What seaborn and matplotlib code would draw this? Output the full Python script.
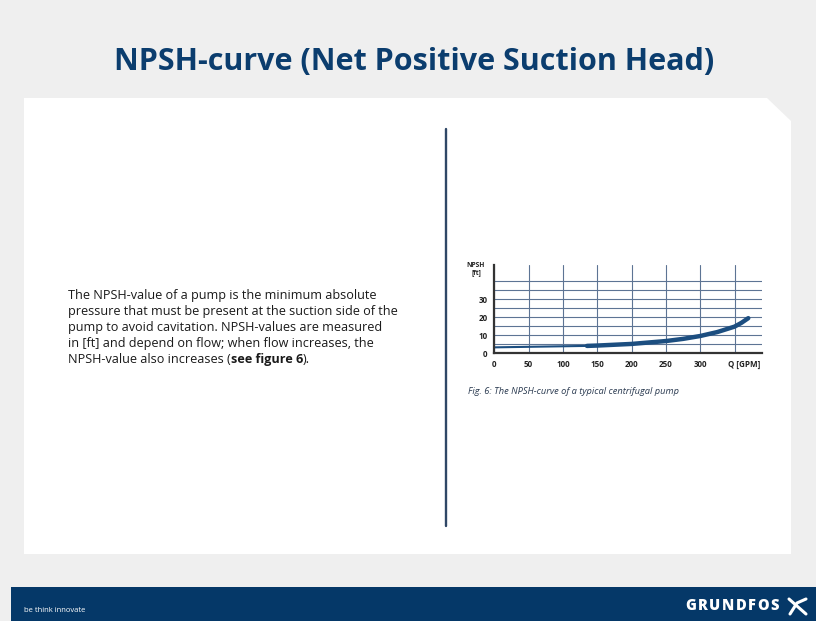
import matplotlib
matplotlib.use("Agg")
import matplotlib.pyplot as plt
import seaborn as sns
import pandas as pd
from matplotlib.patches import Polygon, Rectangle

# NPSH curve
flow_gpm = [0, 50, 100, 135, 150, 200, 250, 275, 300, 325, 350, 360, 370]
npsh_ft = [3.3, 3.6, 3.9, 4.1, 4.3, 5.2, 6.8, 8.0, 9.6, 11.8, 14.8, 16.9, 19.5]
thick_from = 135

x_ticks = [0, 50, 100, 150, 200, 250, 300, 350]
x_labels = ["0", "50", "100", "150", "200", "250", "300", ""]
y_ticks = [0, 5, 10, 15, 20, 25, 30, 35, 40]
y_labels = ["0", "", "10", "", "20", "", "30", "", ""]

title = "NPSH-curve (Net Positive Suction Head)"
body_lines = [
    "The NPSH-value of a pump is the minimum absolute",
    "pressure that must be present at the suction side of the",
    "pump to avoid cavitation. NPSH-values are measured",
    "in [ft] and depend on flow; when flow increases, the",
]
last_line = ["NPSH-value also increases (", "see figure 6", ")."]
caption = "Fig. 6: The NPSH-curve of a typical centrifugal pump"

df = pd.DataFrame({"Q": flow_gpm, "NPSH": npsh_ft})

sns.set_style("white")
plt.rcParams["font.family"] = ["Open Sans", "DejaVu Sans"]

navy = "#0b3d6e"
curve_col = "#1c4e80"
W, H = 816, 639
fig = plt.figure(figsize=(W / 100, H / 100), dpi=100)
fig.patch.set_facecolor("#efefef")

# background layer in pixel coordinates
bg = fig.add_axes([0, 0, 1, 1])
bg.set_xlim(0, W)
bg.set_ylim(H, 0)
bg.axis("off")
bg.add_patch(Polygon([(24, 98), (767, 98), (791, 121), (791, 554), (24, 554)],
                     closed=True, facecolor="white", edgecolor="none"))
bg.plot([445.5, 445.5], [129, 526], color="#2f4766", lw=1.7)
bg.add_patch(Rectangle((11, 587), W - 11, 34, facecolor="#053868", edgecolor="none"))
bg.add_patch(Rectangle((0, 621), W, H - 621, facecolor="white", edgecolor="none"))

bg.text(414, 62, title, ha="center", va="center", fontsize=22, fontweight="bold",
        color=navy)

fs = 9.05
y0 = 295
for i, line in enumerate(body_lines):
    bg.text(68, y0 + i * 16.2, line, ha="left", va="center", fontsize=fs, color="#1a1a1a")
fig.canvas.draw()
rend = fig.canvas.get_renderer()
xpos = 68
ylast = y0 + 4 * 16.2
for part, wt in zip(last_line, ["normal", "bold", "normal"]):
    t = bg.text(xpos, ylast, part, ha="left", va="center", fontsize=fs,
                fontweight=wt, color="#1a1a1a")
    xpos += t.get_window_extent(renderer=rend).width

bg.text(468, 391, caption, ha="left", va="center", fontsize=6.65, style="italic",
        color="#2a3a50")

bg.text(24, 610, "be think innovate", ha="left", va="center", fontsize=5.5, color="white")
# brand name, letter by letter with some tracking
xpos = 685
for ch in "GRUNDFOS":
    t = bg.text(xpos, 606, ch, ha="left", va="center", fontsize=10.5,
                fontweight="heavy", color="white")
    xpos += t.get_window_extent(renderer=rend).width + 1.6
bg.plot([789, 806], [599, 614], color="white", lw=2.2, solid_capstyle="round")
bg.plot([790, 797, 806], [614, 603, 599], color="white", lw=2.2, solid_capstyle="round")

# the chart
ax = fig.add_axes([494.3 / W, 1 - 353.3 / H, (762 - 494.3) / W, (353.3 - 265) / H])
ax.set_facecolor("white")
sns.lineplot(data=df[df["Q"] <= thick_from], x="Q", y="NPSH", ax=ax, color=curve_col,
             lw=1.5, solid_capstyle="round")
sns.lineplot(data=df[df["Q"] >= thick_from], x="Q", y="NPSH", ax=ax, color=curve_col,
             lw=3.2, solid_capstyle="round")
ax.set_xlim(0, 390)
ax.set_ylim(0, 49)
ax.set_xticks(x_ticks)
ax.set_xticklabels(x_labels)
ax.set_yticks(y_ticks)
ax.set_yticklabels(y_labels)
ax.grid(True, color="#5d7494", lw=0.8)
ax.set_axisbelow(True)
ax.tick_params(length=0, labelsize=5.8, pad=5, colors="#222222")
for lab in ax.get_xticklabels() + ax.get_yticklabels():
    lab.set_fontweight("bold")
for s in ["top", "right"]:
    ax.spines[s].set_visible(False)
for s in ["left", "bottom"]:
    ax.spines[s].set_color("#333333")
    ax.spines[s].set_linewidth(1.6)
ax.set_xlabel("")
ax.set_ylabel("")
ax.text(364, -6.2, "Q [GPM]", ha="center", va="center", fontsize=5.8, fontweight="bold",
        color="#222222", clip_on=False)
bg.text(476, 269, "NPSH\n[ft]", ha="center", va="center", fontsize=4.8, fontweight="bold",
        color="#222222", linespacing=0.85)

fig.savefig("out.png", dpi=100, facecolor=fig.get_facecolor())
